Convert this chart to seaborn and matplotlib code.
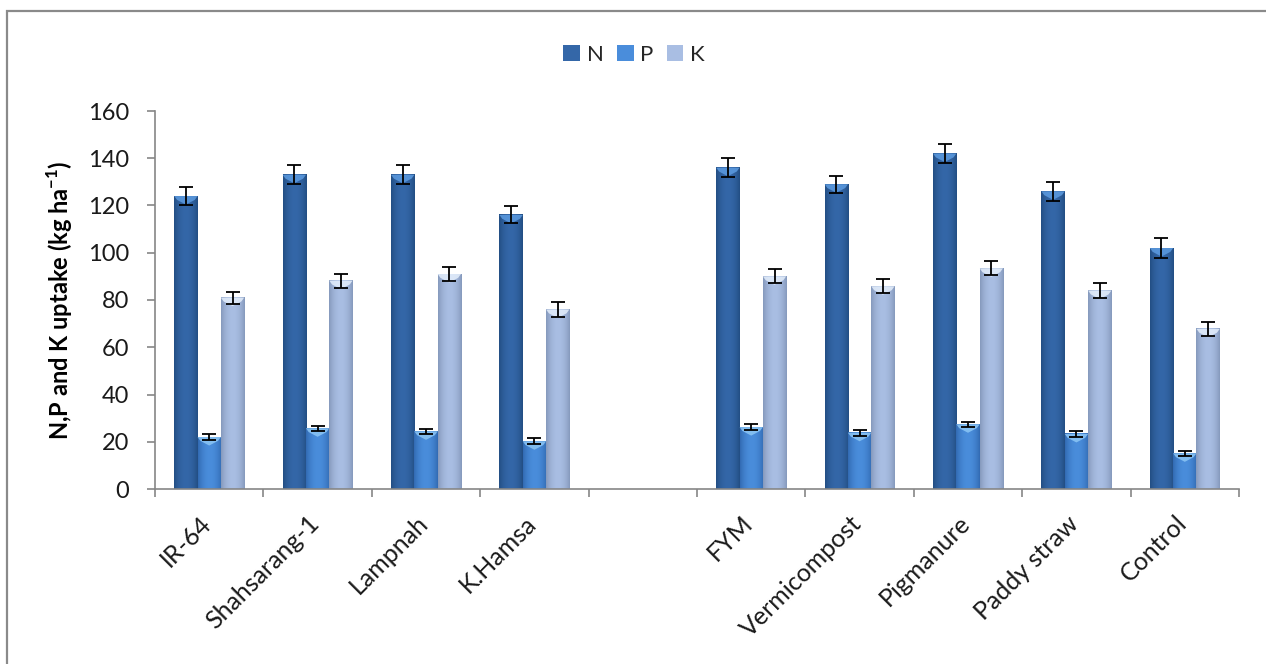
import numpy as np
import pandas as pd
import matplotlib
matplotlib.use("Agg")
import matplotlib.pyplot as plt
import matplotlib.transforms as mtransforms
import seaborn as sns
from matplotlib.colors import to_rgb
from matplotlib.patches import Polygon, Rectangle

# Treatments (blank slot separates the varieties from the organic sources)
categories = ["IR-64", "Shahsarang-1", "Lampnah", "K.Hamsa", "",
              "FYM", "Vermicompost", "Pigmanure", "Paddy straw", "Control"]
nutrients = ["N", "P", "K"]

n_uptake = [124, 133, 133, 116, None, 136, 129, 142, 126, 102]
p_uptake = [22, 25.7, 24.4, 20.2, None, 26.2, 23.8, 27.4, 23.3, 15.1]
k_uptake = [81, 88.2, 91, 76, None, 90, 85.8, 93.4, 84, 67.8]

n_err = [4.0, 4.0, 4.0, 3.6, None, 4.0, 3.6, 4.2, 4.0, 4.2]
p_err = [1.2, 1.1, 1.2, 1.2, None, 1.2, 1.2, 1.1, 1.1, 1.1]
k_err = [2.5, 3.0, 3.0, 3.0, None, 3.0, 3.0, 3.0, 3.0, 3.0]

y_ticks = [0, 20, 40, 60, 80, 100, 120, 140, 160]

values = {"N": n_uptake, "P": p_uptake, "K": k_uptake}
errors = {"N": n_err, "P": p_err, "K": k_err}

rows = []
for nut in nutrients:
    for cat, v in zip(categories, values[nut]):
        if v is not None:
            rows.append({"treatment": cat, "nutrient": nut, "uptake": v})
df = pd.DataFrame(rows)

# Shading: (edge colour, centre colour, top highlight)
shades = {
    "N": ("#1d4677", "#3467a8", "#5c9be0"),
    "P": ("#2a60a6", "#4a8ddb", "#8cc6f5"),
    "K": ("#7a8db0", "#a9bee3", "#e4eefb"),
}
palette = {k: v[1] for k, v in shades.items()}

sns.set_theme(style="white")
plt.rcParams["font.family"] = ["Lato", "DejaVu Sans"]
plt.rcParams["mathtext.fontset"] = "custom"
plt.rcParams["mathtext.rm"] = "Lato"
plt.rcParams["mathtext.bf"] = "Lato:bold"

W, H = 1266, 664
fig = plt.figure(figsize=(W / 100, H / 100), dpi=100)
fig.patch.set_facecolor("white")
ax = fig.add_axes([155 / W, 1 - 489 / H, (1239 - 155) / W, (489 - 111) / H])

sns.barplot(data=df, x="treatment", y="uptake", hue="nutrient",
            order=categories, hue_order=nutrients, palette=palette,
            width=0.645, errorbar=None, saturation=1, legend=False, ax=ax)

ax.set_xlim(-0.5, len(categories) - 0.5)
ax.set_ylim(0, 160)

# Cylinder-like horizontal shading, top bevel highlight and error bars
prof = np.linspace(0, 1, 64)
bright = np.clip(np.sin(np.pi * (prof * 0.92 + 0.04)) ** 0.7, 0, 1)
for nut, cont in zip(nutrients, ax.containers):
    c_edge, c_mid, c_top = (np.array(to_rgb(c)) for c in shades[nut])
    grad = c_edge[None, :] + (c_mid - c_edge)[None, :] * bright[:, None]
    for bar in cont:
        h = bar.get_height()
        if not np.isfinite(h) or h <= 0:
            continue
        x0 = bar.get_x()
        w = bar.get_width()
        x1 = x0 + w
        xc = x0 + w / 2
        ax.imshow(grad[None, :, :], extent=[x0, x1, 0, h], aspect="auto",
                  interpolation="bilinear", zorder=2)
        dy = 3.6
        bevel = Polygon([(x0, h), (x1, h), (x1 - 0.12 * w, h - dy * 0.45),
                         (xc, h - dy), (x0 + 0.12 * w, h - dy * 0.45)],
                        closed=True, facecolor=c_top, edgecolor="none",
                        alpha=0.85, zorder=3)
        ax.add_patch(bevel)
        idx = int(round(xc))
        e = errors[nut][idx]
        ax.errorbar(xc, h, yerr=e, fmt="none", ecolor="black",
                    elinewidth=1.3, capsize=4.8, capthick=1.3, zorder=5)

ax.set_xlim(-0.5, len(categories) - 0.5)
ax.set_ylim(0, 160)

axis_grey = "#868686"
for side in ["top", "right"]:
    ax.spines[side].set_visible(False)
for side in ["left", "bottom"]:
    ax.spines[side].set_color(axis_grey)
    ax.spines[side].set_linewidth(1.2)

ax.set_yticks(y_ticks)
ax.set_yticklabels([str(t) for t in y_ticks], fontsize=17, color="#1a1a1a")
ax.tick_params(axis="y", direction="out", length=6, width=1.2,
               color=axis_grey, pad=12.5, left=True)

ax.set_xticks(range(len(categories)))
ax.set_xticklabels(categories, fontsize=18, color="#1a1a1a",
                   rotation=45, ha="right", rotation_mode="anchor")
ax.tick_params(axis="x", which="major", length=0, pad=14, bottom=True)
ax.set_xticks(np.arange(-0.5, len(categories), 1), minor=True)
ax.tick_params(axis="x", which="minor", direction="out", length=6,
               width=1.2, color=axis_grey, bottom=True)
shift = mtransforms.ScaledTranslation(-10 / 100, -3 / 100, fig.dpi_scale_trans)
for lbl in ax.get_xticklabels():
    lbl.set_transform(lbl.get_transform() + shift)

ax.set_xlabel("")
ax.set_ylabel(r"N,P and K uptake (kg ha$^{\mathbf{-1}}$)",
              fontsize=17, fontweight="bold", color="black")
ax.yaxis.set_label_coords(-0.074, 0.5)

handles = [Rectangle((0, 0), 1, 1, facecolor=palette[n], edgecolor="none")
           for n in nutrients]
fig.legend(handles, nutrients, loc="center", ncol=3,
           bbox_to_anchor=(634 / W, 1 - 55 / H), frameon=False,
           fontsize=16, handlelength=0.75, handleheight=0.75,
           handletextpad=0.3, columnspacing=0.6)

# Chart frame
fig.add_artist(Rectangle((7 / W, -0.2), 1.3, 1.2 - 11 / H,
                         transform=fig.transFigure, fill=False,
                         edgecolor="#8a8a8a", linewidth=1.6))

fig.savefig("out.png", dpi=100, facecolor="white")
